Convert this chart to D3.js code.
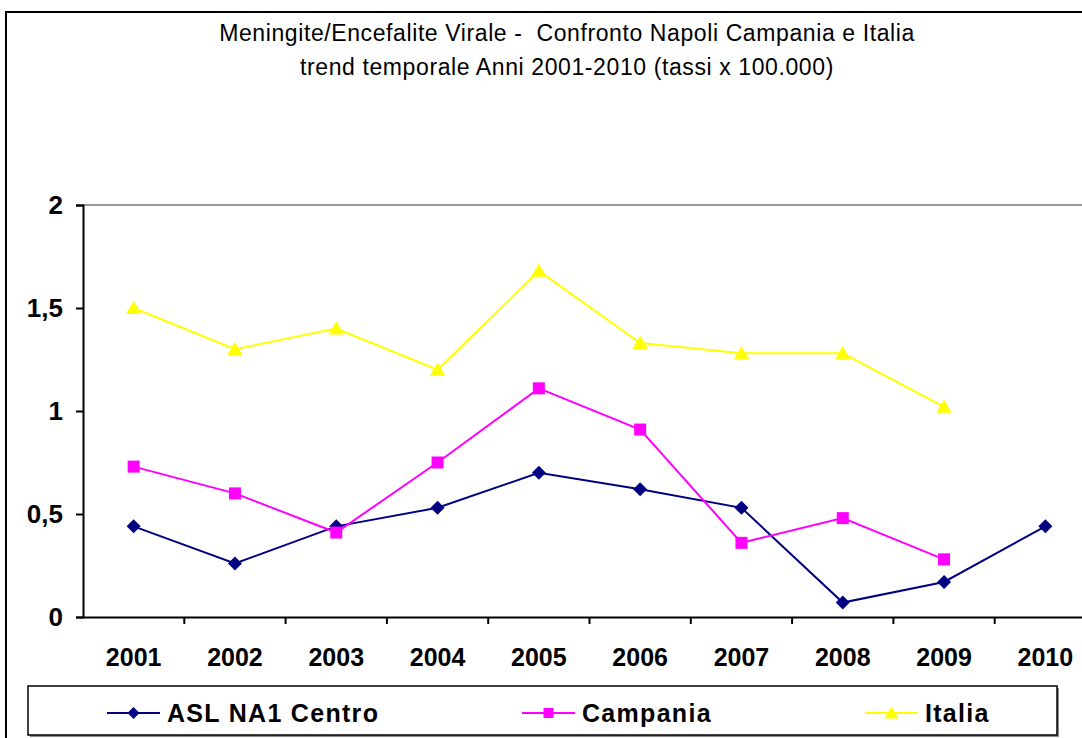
<!DOCTYPE html>
<html>
<head>
<meta charset="utf-8">
<script src="https://cdn.jsdelivr.net/npm/d3@7"></script>
<style>
  html, body { margin: 0; padding: 0; background: #fff; }
  svg { display: block; }
</style>
</head>
<body>
<svg id="chart" width="1082" height="738"></svg>
<script>
const years = ["2001","2002","2003","2004","2005","2006","2007","2008","2009","2010"];
const aslNA1 = [0.44, 0.26, 0.44, 0.53, 0.70, 0.62, 0.53, 0.07, 0.17, 0.44];
const campania = [0.73, 0.60, 0.41, 0.75, 1.11, 0.91, 0.36, 0.48, 0.28, null];
const italia = [1.50, 1.30, 1.40, 1.20, 1.68, 1.33, 1.28, 1.28, 1.02, null];
const yTicks = [0, 0.5, 1, 1.5, 2];
const seriesNames = ["ASL NA1 Centro", "Campania", "Italia"];
const titleLines = ["Meningite/Encefalite Virale -  Confronto Napoli Campania e Italia",
                    "trend temporale Anni 2001-2010 (tassi x 100.000)"];

const series = [
  {name: seriesNames[0], values: aslNA1, color: "#000080", shape: "diamond"},
  {name: seriesNames[1], values: campania, color: "#FF00FF", shape: "square"},
  {name: seriesNames[2], values: italia, color: "#FFFF00", shape: "triangle"}
];

const svg = d3.select("#chart");
const W = 1082, H = 738;
const plot = {left: 83, right: 1096, top: 205, bottom: 617};
const FONT = "Arial, 'Liberation Sans', sans-serif";

// outer frame
svg.append("rect").attr("x", 6).attr("y", 12).attr("width", W + 20).attr("height", H + 20)
  .attr("fill", "#fff").attr("stroke", "#000").attr("stroke-width", 2);

// title
svg.append("g").selectAll("text").data(titleLines).enter().append("text")
  .attr("x", 567).attr("y", (d, i) => 41 + i * 34)
  .attr("text-anchor", "middle")
  .style("font-family", FONT)
  .style("font-size", "23px")
  .style("letter-spacing", "0.6px")
  .style("white-space", "pre")
  .attr("xml:space", "preserve")
  .attr("fill", "#000")
  .text(d => d);

const x = d3.scaleBand().domain(years).range([plot.left, plot.right]).padding(0);
const y = d3.scaleLinear().domain([0, 2]).range([plot.bottom, plot.top]);

// plot area top border
svg.append("line").attr("x1", plot.left).attr("x2", plot.right)
  .attr("y1", y(2)).attr("y2", y(2)).attr("stroke", "#999").attr("stroke-width", 2);

// y axis
const yAxis = d3.axisLeft(y).tickValues(yTicks).tickSize(7).tickPadding(13)
  .tickFormat(d => String(d).replace(".", ","));
const gy = svg.append("g").attr("transform", `translate(${plot.left},0)`).call(yAxis);
gy.select(".domain").attr("stroke", "#000").attr("stroke-width", 2);
gy.selectAll(".tick line").attr("stroke", "#000").attr("stroke-width", 2);
gy.selectAll(".tick text")
  .style("font-family", FONT)
  .style("font-size", "26px").style("font-weight", "bold").attr("fill", "#000");

// x axis
const xAxis = d3.axisBottom(x).tickSize(0).tickPadding(0);
const gx = svg.append("g").attr("transform", `translate(0,${plot.bottom})`).call(xAxis);
gx.select(".domain").attr("stroke", "#000").attr("stroke-width", 2);
gx.selectAll(".tick text")
  .attr("y", 49).attr("dy", 0)
  .style("font-family", FONT)
  .style("font-size", "25px").style("font-weight", "bold").attr("fill", "#000");
// band boundary ticks
gx.selectAll(".bound").data(years.slice(1).concat(["__end"])).enter().append("line")
  .attr("class", "bound")
  .attr("x1", d => d === "__end" ? plot.right : x(d))
  .attr("x2", d => d === "__end" ? plot.right : x(d))
  .attr("y1", 0).attr("y2", 7).attr("stroke", "#000").attr("stroke-width", 2);

function markerPath(shape, s) {
  if (shape === "diamond") return `M0,${-s}L${s},0L0,${s}L${-s},0Z`;
  if (shape === "square") return `M${-s},${-s}H${s}V${s}H${-s}Z`;
  return `M0,${-s * 1.05}L${s * 1.1},${s * 0.85}L${-s * 1.1},${s * 0.85}Z`;
}

const line = d3.line().defined(d => d.v !== null).x(d => x(d.year) + x.bandwidth() / 2).y(d => y(d.v));

series.forEach(s => {
  const pts = years.map((yr, i) => ({year: yr, v: s.values[i]}));
  svg.append("path").datum(pts).attr("d", line)
    .attr("fill", "none").attr("stroke", s.color).attr("stroke-width", 2);
  const hs = s.shape === "diamond" ? 7 : s.shape === "square" ? 6 : 7;
  svg.append("g").selectAll("path").data(pts.filter(d => d.v !== null)).enter().append("path")
    .attr("transform", d => `translate(${x(d.year) + x.bandwidth() / 2},${y(d.v)})`)
    .attr("d", markerPath(s.shape, hs))
    .attr("fill", s.color).attr("stroke", "none");
});

// legend
const lg = svg.append("g");
lg.append("rect").attr("x", 30).attr("y", 688).attr("width", 1029).attr("height", 49).attr("fill", "#888");
lg.append("rect").attr("x", 28).attr("y", 686).attr("width", 1029).attr("height", 49)
  .attr("fill", "#fff").attr("stroke", "#000").attr("stroke-width", 1.5);
const legendX = [107, 522, 865];
series.forEach((s, i) => {
  const g = lg.append("g").attr("transform", `translate(${legendX[i]},713)`);
  g.append("line").attr("x1", 0).attr("x2", 53).attr("y1", 0).attr("y2", 0)
    .attr("stroke", s.color).attr("stroke-width", 2);
  const hs = s.shape === "diamond" ? 6 : s.shape === "square" ? 5 : 6.5;
  g.append("path").attr("transform", "translate(26.5,0)").attr("d", markerPath(s.shape, hs)).attr("fill", s.color);
  g.append("text").attr("x", 60).attr("y", 9)
    .style("font-family", FONT)
    .style("font-size", "25px").style("font-weight", "bold")
    .style("letter-spacing", "1.3px").attr("fill", "#000")
    .text(s.name);
});
</script>
</body>
</html>
